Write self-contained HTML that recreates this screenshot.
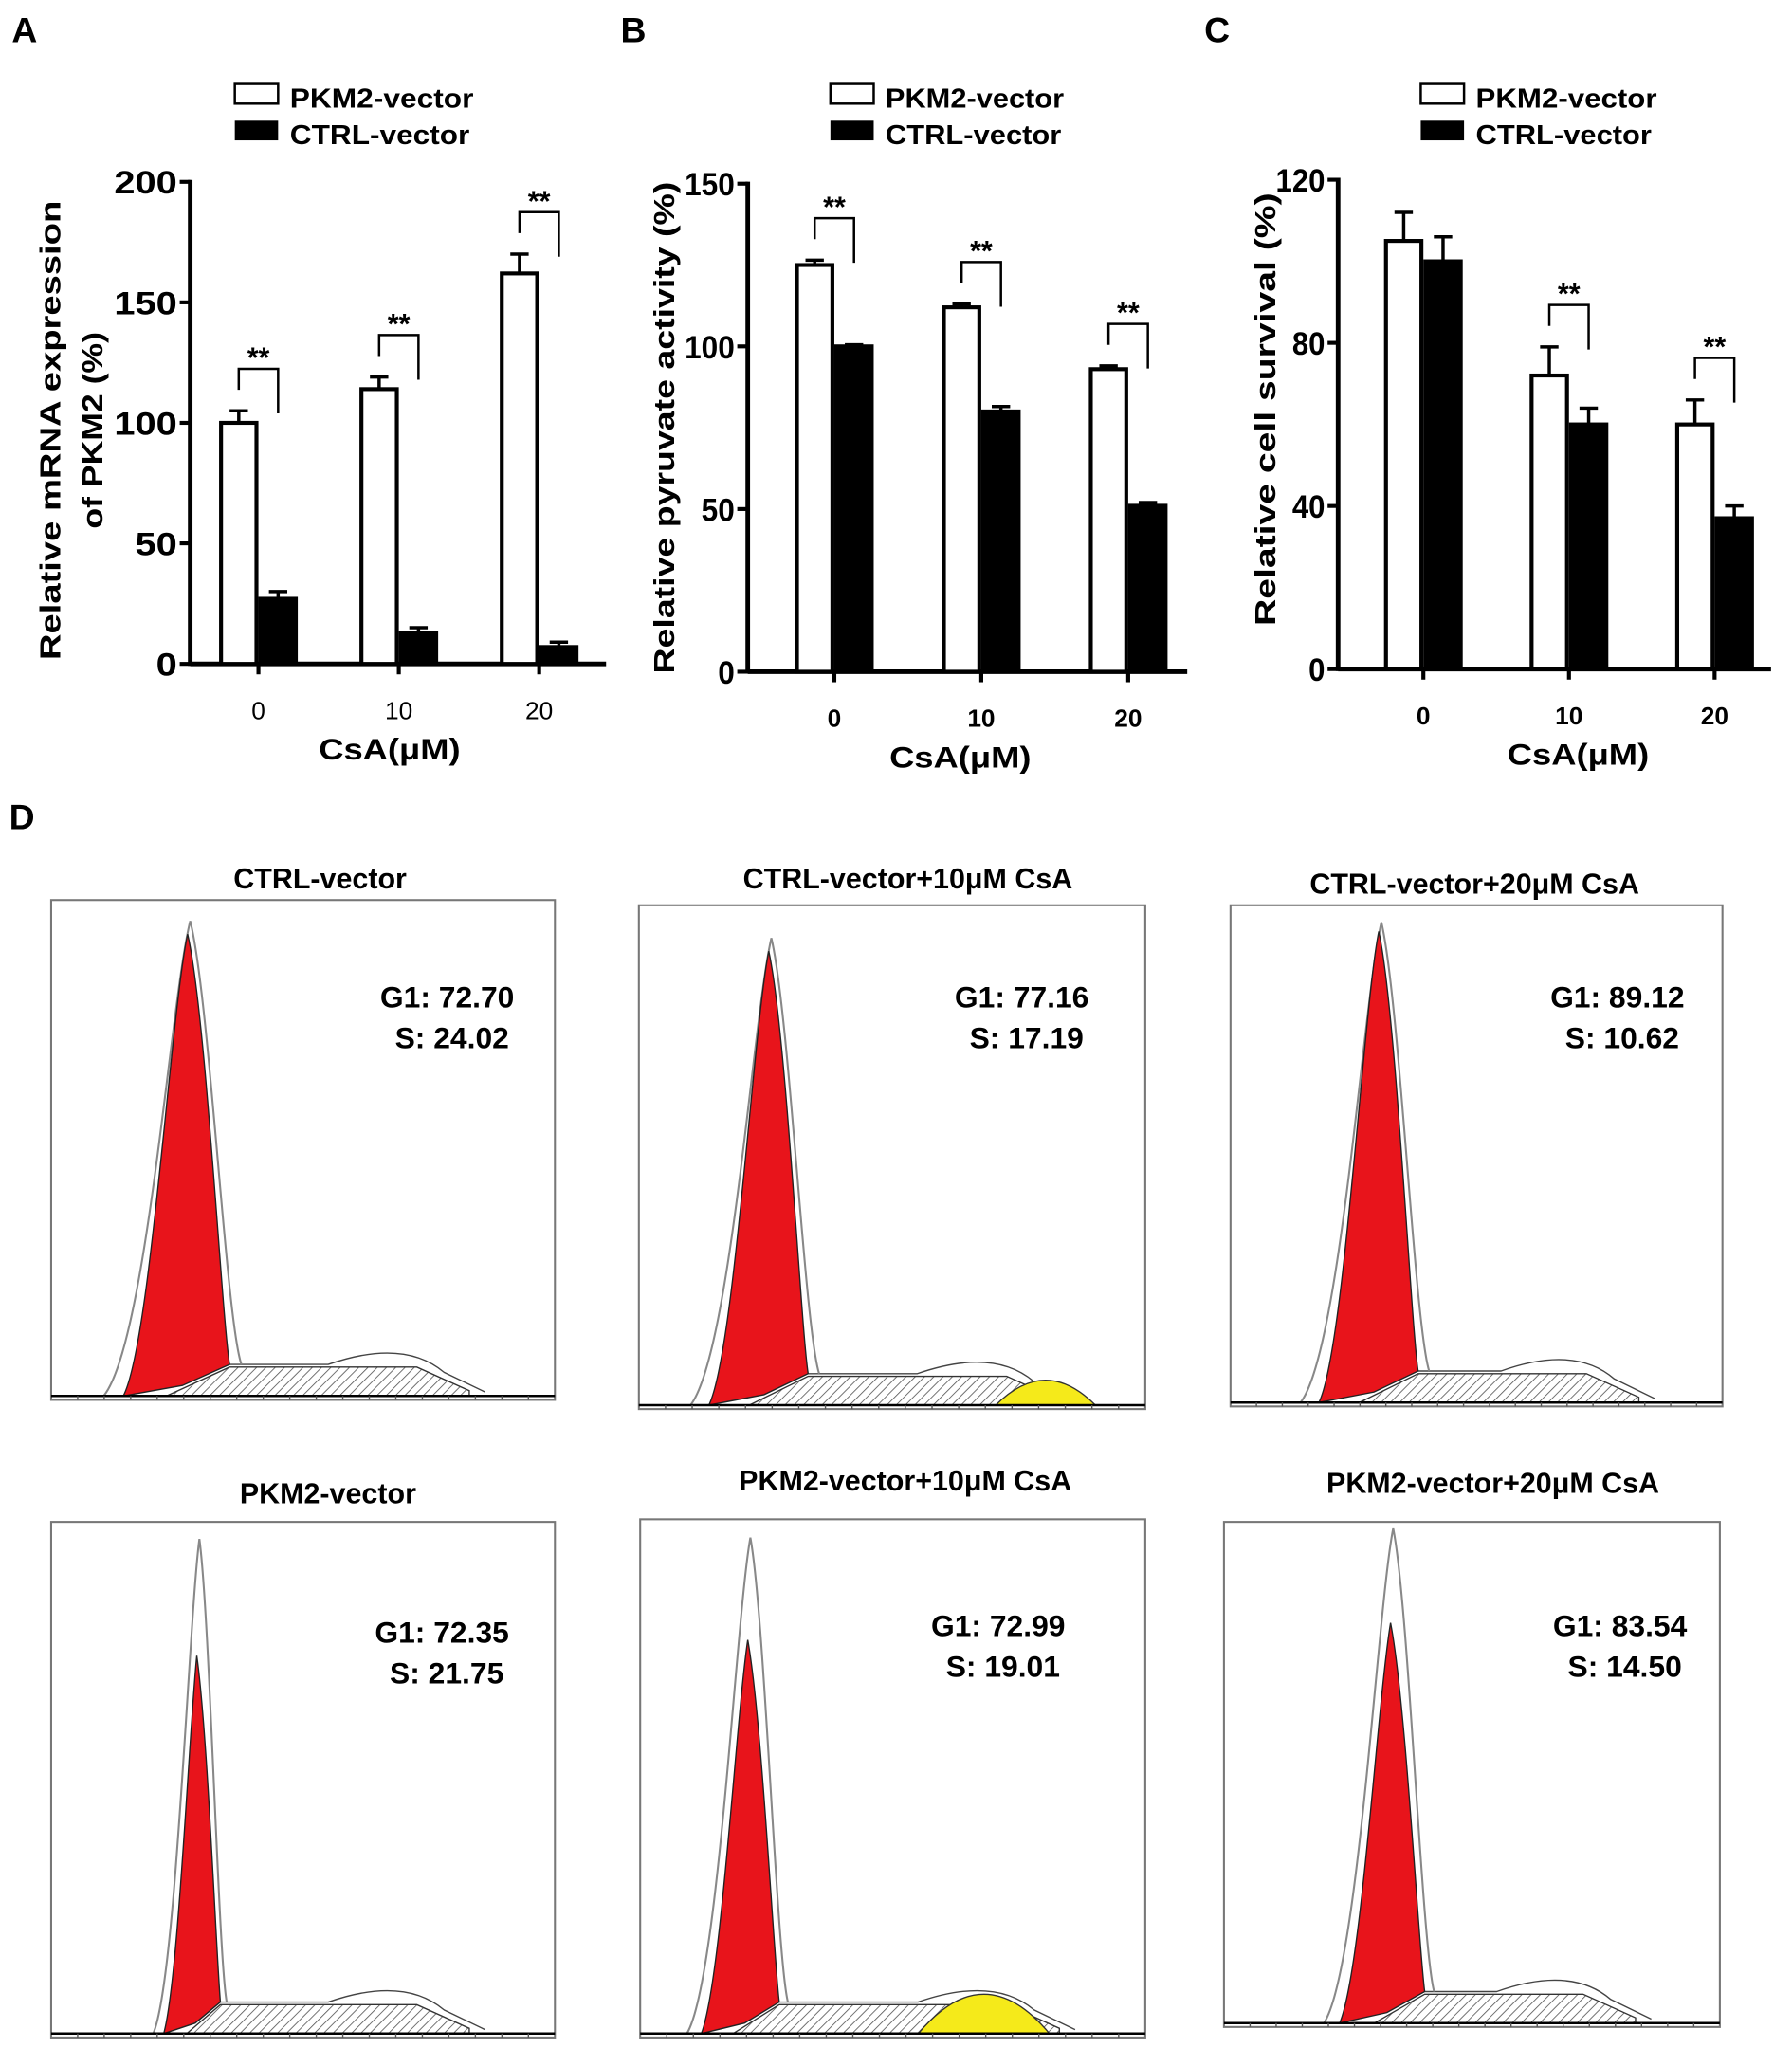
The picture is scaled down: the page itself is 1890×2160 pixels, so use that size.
<!DOCTYPE html>
<html><head><meta charset="utf-8"><title>PKM2 figure</title>
<style>
html,body{margin:0;padding:0;background:#fff;}
svg{display:block;}
text{font-family:"Liberation Sans",Arial,sans-serif;}
</style></head>
<body>
<svg id="fig" width="1890" height="2160" viewBox="0 0 1366 1561" preserveAspectRatio="none" xmlns="http://www.w3.org/2000/svg">
<defs>
<pattern id="hatch" patternUnits="userSpaceOnUse" width="5" height="5" patternTransform="rotate(45)">
<rect width="5" height="5" fill="#fff"/><line x1="0" y1="0" x2="0" y2="5" stroke="#555" stroke-width="1.2"/>
</pattern>
</defs>
<g id="root"></g>
</svg>
<script>
// ---------- Chart data ----------
const categories = ["0", "10", "20"];
const seriesNames = ["PKM2-vector", "CTRL-vector"];
const aPkm2 = [100, 114, 162];
const aPkm2Err = [5, 5, 8];
const aCtrl = [27, 13, 7];
const aCtrlErr = [3, 2, 2];
const aTicks = [0, 50, 100, 150, 200];
const aSig = [true, true, true];

const bPkm2 = [125, 112, 93];
const bPkm2Err = [1.5, 1, 1];
const bCtrl = [100, 80, 51];
const bCtrlErr = [0.5, 1.5, 1];
const bTicks = [0, 50, 100, 150];
const bSig = [true, true, true];

const cPkm2 = [105, 72, 60];
const cPkm2Err = [7, 7, 6];
const cCtrl = [100, 60, 37];
const cCtrlErr = [6, 4, 3];
const cTicks = [0, 40, 80, 120];
const cSig = [false, true, true];

// flow cytometry values
const flowTitles = ["CTRL-vector", "CTRL-vector+10μM CsA", "CTRL-vector+20μM CsA", "PKM2-vector", "PKM2-vector+10μM CsA", "PKM2-vector+20μM CsA"];
const flowG1 = ["72.70", "77.16", "89.12", "72.35", "72.99", "83.54"];
const flowS = ["24.02", "17.19", "10.62", "21.75", "19.01", "14.50"];

const NS = "http://www.w3.org/2000/svg";
const root = document.getElementById('root');
function el(tag, attrs, parent, txt) {
  const e = document.createElementNS(NS, tag);
  for (const k in attrs) e.setAttribute(k, attrs[k]);
  if (txt !== undefined) e.textContent = txt;
  (parent || root).appendChild(e);
  return e;
}

function barChart(o) {
  const g = el('g', {});
  
  
  const y = v => o.y0 - (v / o.max) * (o.y0 - o.yTop);
  const x = i => o.cx[i];
  const bw = 30;
  const pl = el('text', {x: o.letterX, y: 32, 'font-size': 27, 'font-weight': 'bold'}, g, o.letter);
  
  
  const lw = el('rect', {x: o.legX, y: 64, width: 33, height: 15, fill: '#fff', stroke: '#000', 'stroke-width': 1.8}, g);
  
  
  const lb = el('rect', {x: o.legX, y: 92, width: 33, height: 15, fill: '#000'}, g);
  
  
  const lt1 = el('text', {x: o.legX + 42, y: 82, 'font-size': 21, 'font-weight': 'bold', textLength: o.legTL, lengthAdjust: 'spacingAndGlyphs'}, g, seriesNames[0]);
  
  
  const lt2 = el('text', {x: o.legX + 42, y: 110, 'font-size': 21, 'font-weight': 'bold', textLength: o.legTL2, lengthAdjust: 'spacingAndGlyphs'}, g, seriesNames[1]);
  
  
  const ya = el('line', {x1: o.axX, y1: y(o.max) - 1.5, x2: o.axX, y2: o.y0 + 1.5, stroke: '#000', 'stroke-width': 3.5}, g);
  
  
  const xa = el('line', {x1: o.axX, y1: o.y0, x2: o.axEnd, y2: o.y0, stroke: '#000', 'stroke-width': 3.5}, g);
  
  
  o.ticks.forEach(t => {
    el('line', {x1: o.axX - 8, y1: y(t), x2: o.axX, y2: y(t), stroke: '#000', 'stroke-width': 3}, g);
    const tl = el('text', {x: o.axX - 10, y: y(t) + 9, 'font-size': o.tickFont, 'font-weight': 'bold', 'text-anchor': 'end', textLength: o.tickTL(t), lengthAdjust: 'spacingAndGlyphs'}, g, String(t));
    
    
  });
  categories.forEach((c, i) => {
    el('line', {x1: x(i), y1: o.y0, x2: x(i), y2: o.y0 + 8, stroke: '#000', 'stroke-width': 3}, g);
    const xl = el('text', {x: x(i), y: o.y0 + 42, 'font-size': o.xtFont, 'font-weight': o.xtWeight, 'text-anchor': 'middle'}, g, c);
    
    
  });
  const xt = el('text', {x: o.xTitleX, y: o.y0 + 73, 'font-size': 23, 'font-weight': 'bold', 'text-anchor': 'middle', textLength: 108, lengthAdjust: 'spacingAndGlyphs'}, g, 'CsA(μM)');
  
  
  o.yTitle.forEach((line, k) => {
    const yt = el('text', {x: 0, y: 0, 'font-size': 22, 'font-weight': 'bold', 'text-anchor': 'middle', transform: `translate(${o.yTitleX[k]},${o.yTitleY}) rotate(-90)`, textLength: o.yTitleTL[k], lengthAdjust: 'spacingAndGlyphs'}, g, line);
    
    
  });
  categories.forEach((c, i) => {
    const wv = o.w[i], kv = o.k[i];
    const we = o.we[i], ke = o.ke[i];
    el('line', {x1: x(i) - bw / 2, y1: y(wv), x2: x(i) - bw / 2, y2: y(wv + we), stroke: '#000', 'stroke-width': 2.5}, g);
    el('line', {x1: x(i) - bw / 2 - 7, y1: y(wv + we), x2: x(i) - bw / 2 + 7, y2: y(wv + we), stroke: '#000', 'stroke-width': 2.5}, g);
    el('line', {x1: x(i) + bw / 2, y1: y(kv), x2: x(i) + bw / 2, y2: y(kv + ke), stroke: '#000', 'stroke-width': 2.5}, g);
    el('line', {x1: x(i) + bw / 2 - 7, y1: y(kv + ke), x2: x(i) + bw / 2 + 7, y2: y(kv + ke), stroke: '#000', 'stroke-width': 2.5}, g);
    const b1 = el('rect', {x: x(i) - bw + 1.5, y: y(wv), width: bw - 3, height: o.y0 - y(wv), fill: '#fff', stroke: '#000', 'stroke-width': 3}, g);
    
    
    const b2 = el('rect', {x: x(i), y: y(kv) - 1.5, width: bw, height: o.y0 - y(kv) + 1.5, fill: '#000'}, g);
    
    
    if (o.sig[i]) {
      const top = y(wv + we) - 32;
      const x1 = x(i) - bw / 2, x2 = x(i) + bw / 2;
      const br = el('path', {d: `M${x1},${top + 16} L${x1},${top} L${x2},${top} L${x2},${top + 34}`, fill: 'none', stroke: '#000', 'stroke-width': 1.8}, g);
      
      
      const st = el('text', {x: (x1 + x2) / 2, y: top - 1, 'font-size': 22, 'font-weight': 'bold', 'text-anchor': 'middle'}, g, '**');
      
      
    }
  });
}

barChart({name: 'chart-a-mrna', letter: 'A', letterX: 9, legX: 179, legTL: 140, legTL2: 137,
  axX: 145, axEnd: 462, y0: 506, yTop: 138.6, max: 200, ticks: aTicks, tickFont: 25, tickTL: t => String(t).length * 16,
  cx: [197, 304, 411], w: aPkm2, we: aPkm2Err, k: aCtrl, ke: aCtrlErr, sig: aSig,
  xtFont: 19, xtWeight: 'normal', xTitleX: 297,
  yTitle: ['Relative mRNA expression', 'of PKM2 (%)'], yTitleX: [46, 78], yTitleY: 328, yTitleTL: [350, 150]});
barChart({name: 'chart-b-pyruvate', letter: 'B', letterX: 473, legX: 633, legTL: 136, legTL2: 134,
  axX: 570, axEnd: 905, y0: 512, yTop: 140, max: 150, ticks: bTicks, tickFont: 25, tickTL: t => String(t).length * 12.7,
  cx: [636, 748, 860], w: bPkm2, we: bPkm2Err, k: bCtrl, ke: bCtrlErr, sig: bSig,
  xtFont: 19, xtWeight: 'bold', xTitleX: 732,
  yTitle: ['Relative pyruvate activity (%)'], yTitleX: [514], yTitleY: 326, yTitleTL: [375]});
barChart({name: 'chart-c-survival', letter: 'C', letterX: 918, legX: 1083, legTL: 138, legTL2: 134,
  axX: 1020, axEnd: 1350, y0: 510, yTop: 137, max: 120, ticks: cTicks, tickFont: 25, tickTL: t => String(t).length * 12.5,
  cx: [1085, 1196, 1307], w: cPkm2, we: cPkm2Err, k: cCtrl, ke: cCtrlErr, sig: cSig,
  xtFont: 19, xtWeight: 'bold', xTitleX: 1203,
  yTitle: ['Relative cell survival (%)'], yTitleX: [972], yTitleY: 312, yTitleTL: [330]});

// ---------- Panel D ----------
const dl = el('text', {x: 7, y: 632, 'font-size': 27, 'font-weight': 'bold'}, root, 'D');



const frames = [
  {x0: 39, y0: 686, x1: 423, y1: 1067, tx: 244, ty: 677, gx: 322, gy: 768, pk: 145, top: 702, rtop: 712, hw: 30, yel: 0},
  {x0: 487, y0: 690, x1: 873, y1: 1074, tx: 692, ty: 677, gx: 760, gy: 768, pk: 588, top: 715, rtop: 725, hw: 28, yel: 1, yc: 797, yw: 38, yh: 38},
  {x0: 938, y0: 690, x1: 1313, y1: 1072, tx: 1124, ty: 681, gx: 1214, gy: 768, pk: 1053, top: 703, rtop: 710, hw: 28, yel: 0},
  {x0: 39, y0: 1160, x1: 423, y1: 1553, tx: 250, ty: 1146, gx: 318, gy: 1252, pk: 152, top: 1173, rtop: 1262, hw: 16, yel: 0},
  {x0: 488, y0: 1158, x1: 873, y1: 1553, tx: 690, ty: 1136, gx: 742, gy: 1247, pk: 572, top: 1172, rtop: 1250, hw: 22, yel: 1, yc: 750, yw: 50, yh: 60},
  {x0: 933, y0: 1160, x1: 1311, y1: 1545, tx: 1138, ty: 1138, gx: 1216, gy: 1247, pk: 1062, top: 1165, rtop: 1237, hw: 24, yel: 0}
];

frames.forEach((f, i) => {
  const g = el('g', {});
  
  
  const t = el('text', {x: f.tx, y: f.ty, 'font-size': 22, 'font-weight': 'bold', 'text-anchor': 'middle'}, g, flowTitles[i]);
  
  
  const fr = el('rect', {x: f.x0, y: f.y0, width: f.x1 - f.x0, height: f.y1 - f.y0, fill: '#fff', stroke: '#777', 'stroke-width': 1.5}, g);
  
  
  const b = f.y1 - 3;
  const w = f.x1 - f.x0;
  const sEnd = f.x0 + w * 0.83;
  const hs = el('path', {d: `M${f.pk - f.hw * 0.6},${b} L${f.pk + f.hw},${b - 22} L${sEnd - 40},${b - 22} L${sEnd},${b - 4} L${sEnd},${b} Z`, fill: 'url(#hatch)', stroke: '#333', 'stroke-width': 1}, g);
  
  
  el('path', {d: `M${f.pk + f.hw},${b - 24} L${f.x0 + w * 0.55},${b - 24} Q${f.x0 + w * 0.7},${b - 44} ${f.x0 + w * 0.78},${b - 18} L${sEnd + 12},${b - 3}`, fill: 'none', stroke: '#444', 'stroke-width': 1}, g);
  if (f.yel) {
    const ye = el('path', {d: `M${f.yc - f.yw},${b} Q${f.yc},${b - f.yh} ${f.yc + f.yw},${b} Z`, fill: '#f5ea1a', stroke: '#333', 'stroke-width': 1}, g);
    
    
  }
  el('path', {d: `M${f.pk - f.hw * 2.2},${b} C${f.pk - f.hw * 1.1},${b - 40} ${f.pk - f.hw * 0.5},${f.top + 60} ${f.pk},${f.top} C${f.pk + f.hw * 0.5},${f.top + 60} ${f.pk + f.hw * 0.9},${b - 60} ${f.pk + f.hw * 1.3},${b - 24}`, fill: 'none', stroke: '#888', 'stroke-width': 1.5}, g);
  const rp = el('path', {d: `M${f.pk - f.hw * 1.7},${b} C${f.pk - f.hw},${b - 40} ${f.pk - f.hw * 0.5},${f.rtop + 60} ${f.pk - 2},${f.rtop} C${f.pk + f.hw * 0.4},${f.rtop + 60} ${f.pk + f.hw * 0.8},${b - 60} ${f.pk + f.hw},${b - 24} L${f.pk - f.hw * 0.2},${b - 8} Z`, fill: '#e8141b', stroke: '#222', 'stroke-width': 1}, g);
  
  
  el('line', {x1: f.x0, y1: b, x2: f.x1, y2: b, stroke: '#000', 'stroke-width': 1.8}, g);
  for (let k = 1; k < 19; k++) {
    el('line', {x1: f.x0 + k * w / 19, y1: b, x2: f.x0 + k * w / 19, y2: b + 3, stroke: '#555', 'stroke-width': 1}, g);
  }
  const g1 = el('text', {x: f.gx + 70, y: f.gy, 'font-size': 23, 'font-weight': 'bold', 'text-anchor': 'end'}, g, 'G1: ' + flowG1[i]);
  
  
  const s = el('text', {x: f.gx + 66, y: f.gy + 31, 'font-size': 23, 'font-weight': 'bold', 'text-anchor': 'end'}, g, 'S: ' + flowS[i]);
  
  
});
</script>
</body></html>
